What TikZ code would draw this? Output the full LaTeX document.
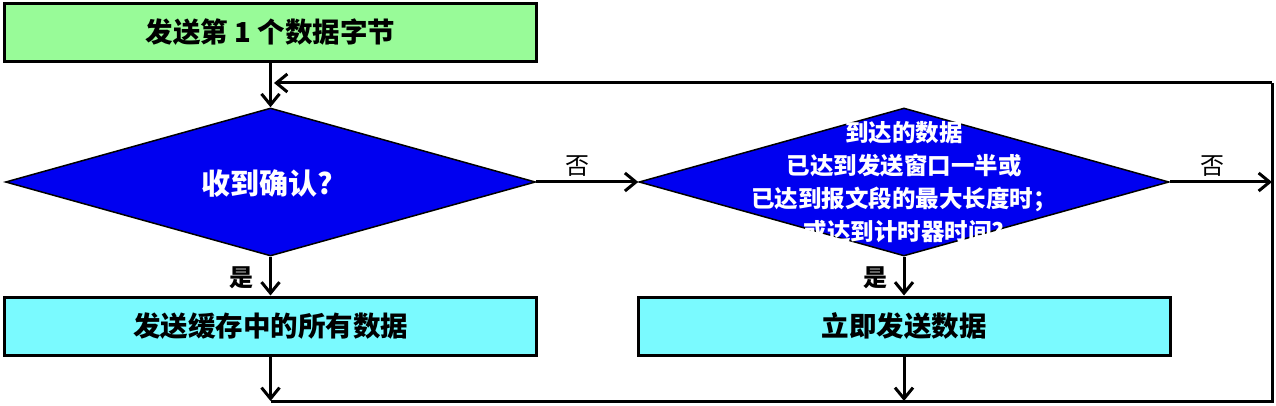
\documentclass[tikz,border=0pt]{standalone}
\usepackage{fontspec}
\setmainfont{Noto Sans CJK SC}
\usetikzlibrary{shapes.geometric,arrows.meta}
\definecolor{startgreen}{RGB}{152,251,152}
\definecolor{boxcyan}{RGB}{122,250,255}
\definecolor{dblue}{RGB}{0,0,240}
\begin{document}
\begin{tikzpicture}[x=1pt,y=-1pt,
 box/.style={draw=black, line width=3pt, minimum width=532pt, minimum height=58pt, inner sep=0pt, font=\bfseries\fontsize{27.5}{30}\selectfont},
 dia/.style={diamond, draw=black, line width=1.5pt, fill=dblue, minimum width=530pt, minimum height=148pt, inner sep=0pt},
 dtext/.style={text=white, font=\bfseries\fontsize{23.5}{33}\selectfont, align=center},
 conn/.style={line width=3pt, -{Straight Barb[length=11pt,width=18pt,line width=3pt]}},
 plainline/.style={line width=3pt},
 lbl/.style={font=\fontsize{24}{26}\selectfont}]
\fill[white] (0,0) rectangle (1276,406);
\useasboundingbox (0,0) rectangle (1276,406);
\node[box, fill=startgreen] (start) at (270.5,32.5) {发送第 1 个数据字节};
\node[dia] (d1) at (270.5,182) {};
\node[dtext, font=\bfseries\fontsize{29}{32}\selectfont] (d1t) at ([xshift=-3pt,yshift=-2pt]d1.center) {收到确认?};
\node[dia] (d2) at (904,182) {};
\node[dtext] (d2t) at (d2.center) {到达的数据\\已达到发送窗口一半或\\已达到报文段的最大长度时；\\或达到计时器时间?};
\node[box, fill=boxcyan] (b1) at (270.5,326) {发送缓存中的所有数据};
\node[box, fill=boxcyan] (b2) at (904,326) {立即发送数据};
\coordinate (c1) at (270.5,401);
\coordinate (c2) at (904,401);
\coordinate (cr) at (1272,182);
\coordinate (br) at (1272,401);
\coordinate (tr) at (1272,83);
\coordinate (fb) at (274,83);
\draw[conn] (start.south) -- (d1.north);
\draw[conn] (d1.east) -- node[lbl,above=1pt,pos=0.4]{否} (d2.west);
\draw[conn] (d2.east) -- node[lbl,above=1pt,pos=0.42]{否} (cr);
\draw[conn] (d1.south) -- node[lbl,left=12pt,pos=0.55]{\bfseries 是} (b1.north);
\draw[conn] (d2.south) -- node[lbl,left=12pt,pos=0.55]{\bfseries 是} (b2.north);
\draw[conn] (b1.south) -- (c1);
\draw[conn] (b2.south) -- (c2);
\draw[plainline] (c1) -- (br) -- (tr);
\draw[conn] (tr) -- (fb);
\end{tikzpicture}
\end{document}
